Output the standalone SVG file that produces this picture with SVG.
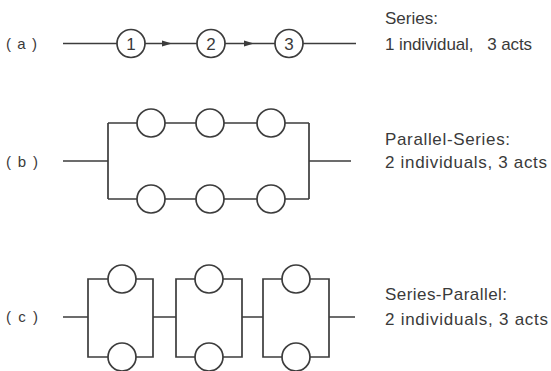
<svg xmlns="http://www.w3.org/2000/svg" width="551" height="371" viewBox="0 0 551 371">
<style>
.w{fill:none;stroke:#3c3c3c;stroke-width:1.7}
.n{fill:#fff;stroke:#3c3c3c;stroke-width:1.7}
.t{font-family:"Liberation Sans",Arial,sans-serif;font-size:17px;fill:#3a3a3a;white-space:pre}
.d{font-family:"Liberation Sans",Arial,sans-serif;font-size:17px;fill:#3a3a3a;text-anchor:middle}
.p{font-family:"Liberation Sans",Arial,sans-serif;font-size:15px;fill:#3a3a3a}
</style>
<defs>
<marker id="ah" markerWidth="12" markerHeight="8" refX="10" refY="4" orient="auto" markerUnits="userSpaceOnUse">
<path d="M0,1 L10,4 L0,7 Z" fill="#3c3c3c"/>
</marker>
</defs>
<rect width="551" height="371" fill="#fff"/>
<g id="connectors">
<path class="w" d="M63,43.5 H117"/>
<path class="w" d="M145,43.5 H172 H197" marker-mid="url(#ah)"/>
<path class="w" d="M225,43.5 H254 H275" marker-mid="url(#ah)"/>
<path class="w" d="M303,43.5 H356"/>
<path class="w" d="M63,161 H108 M108,123 V199 M309,123 V199 M309,161 H351"/>
<path class="w" d="M108,123 H137 M165,123 H196 M224,123 H257 M285,123 H309"/>
<path class="w" d="M108,199 H137 M165,199 H196 M224,199 H257 M285,199 H309"/>
<path class="w" d="M63,317 H88 M153,317 H176 M242,317 H263 M329,317 H355"/>
<path class="w" d="M108,279 H88 V357 H108 M136,279 H153 V357 H136"/>
<path class="w" d="M195,279 H176 V357 H195 M223,279 H242 V357 H223"/>
<path class="w" d="M282,279 H263 V357 H282 M310,279 H329 V357 H310"/>
</g>
<g id="a-act1"><circle class="n" cx="131" cy="43.5" r="14"/><text class="d" x="131" y="49.5">1</text></g>
<g id="a-act2"><circle class="n" cx="211" cy="43.5" r="14"/><text class="d" x="211" y="49.5">2</text></g>
<g id="a-act3"><circle class="n" cx="289" cy="43.5" r="14"/><text class="d" x="289" y="49.5">3</text></g>
<g id="b-top1"><circle class="n" cx="151" cy="123" r="14"/></g>
<g id="b-top2"><circle class="n" cx="210" cy="123" r="14"/></g>
<g id="b-top3"><circle class="n" cx="271" cy="123" r="14"/></g>
<g id="b-bot1"><circle class="n" cx="151" cy="199" r="14"/></g>
<g id="b-bot2"><circle class="n" cx="210" cy="199" r="14"/></g>
<g id="b-bot3"><circle class="n" cx="271" cy="199" r="14"/></g>
<g id="c-top1"><circle class="n" cx="122" cy="279" r="14"/></g>
<g id="c-top2"><circle class="n" cx="209" cy="279" r="14"/></g>
<g id="c-top3"><circle class="n" cx="296" cy="279" r="14"/></g>
<g id="c-bot1"><circle class="n" cx="122" cy="357" r="14"/></g>
<g id="c-bot2"><circle class="n" cx="209" cy="357" r="14"/></g>
<g id="c-bot3"><circle class="n" cx="296" cy="357" r="14"/></g>
<g id="labels">
<text class="p" x="6" y="49" textLength="31" lengthAdjust="spacing">(a)</text>
<text class="p" x="6" y="167" textLength="32" lengthAdjust="spacing">(b)</text>
<text class="p" x="6" y="322" textLength="32" lengthAdjust="spacing">(c)</text>
<text class="t" x="385" y="24" textLength="53" lengthAdjust="spacing">Series:</text>
<text class="t" x="385" y="50" xml:space="preserve" textLength="147" lengthAdjust="spacing">1 individual,   3 acts</text>
<text class="t" x="385" y="145" textLength="125" lengthAdjust="spacing">Parallel-Series:</text>
<text class="t" x="385" y="168" textLength="162" lengthAdjust="spacing">2 individuals, 3 acts</text>
<text class="t" x="385" y="300" textLength="122" lengthAdjust="spacing">Series-Parallel:</text>
<text class="t" x="385" y="325" textLength="163" lengthAdjust="spacing">2 individuals, 3 acts</text>
</g>
</svg>
